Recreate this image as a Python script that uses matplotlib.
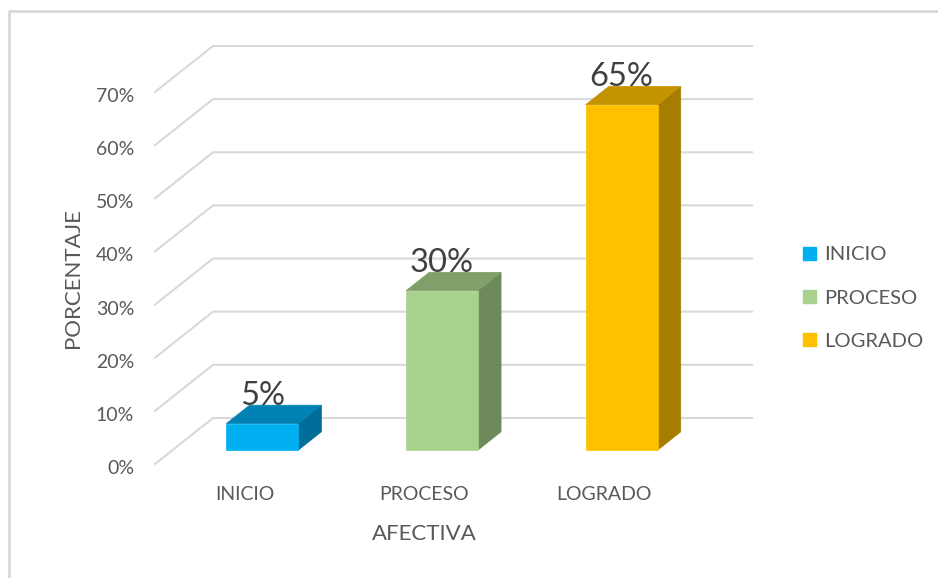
import matplotlib
matplotlib.use("Agg")
import matplotlib.pyplot as plt
import matplotlib.transforms as mtransforms
from matplotlib.patches import Polygon, Patch
from matplotlib.lines import Line2D

plt.rcParams['font.family'] = ['Lato', 'DejaVu Sans']

# data
categories = ["INICIO", "PROCESO", "LOGRADO"]
values = [5, 30, 65]
front_colors = ["#00B0F0", "#A9D18E", "#FFC000"]
top_colors = ["#0083B4", "#80A06A", "#C49400"]
side_colors = ["#006E98", "#6E8A5A", "#A67D00"]
y_ticks = [0, 10, 20, 30, 40, 50, 60, 70]
y_labels = ["0%", "10%", "20%", "30%", "40%", "50%", "60%", "70%"]

# fake 3d: depth offset of the floor (category units, percent units)
DX = 0.323
DY = 8.66
d0, d1 = 0.3, 0.7   # bar front / back depth
bw = 0.4            # bar width

W, H = 938, 578
fig = plt.figure(figsize=(W / 100, H / 100), dpi=100)
ax = fig.add_axes([155 / W, (H - 464) / H, 539 / W, 372 / H])
ax.set_xlim(-0.5, 2.5)
ax.set_ylim(0, 70)
for s in ax.spines.values():
    s.set_visible(False)

grid_c = "#D9D9D9"
for v in y_ticks:
    ax.plot([-0.5, -0.5 + DX, 2.5 + DX], [v, v + DY, v + DY],
            color=grid_c, lw=1.5, clip_on=False, zorder=1)

for i, (v, fc, tc, sc) in enumerate(zip(values, front_colors, top_colors, side_colors)):
    xl, xr = i - bw / 2, i + bw / 2
    front = [(xl + d0 * DX, d0 * DY), (xr + d0 * DX, d0 * DY),
             (xr + d0 * DX, v + d0 * DY), (xl + d0 * DX, v + d0 * DY)]
    top = [(xl + d0 * DX, v + d0 * DY), (xr + d0 * DX, v + d0 * DY),
           (xr + d1 * DX, v + d1 * DY), (xl + d1 * DX, v + d1 * DY)]
    side = [(xr + d0 * DX, d0 * DY), (xr + d1 * DX, d1 * DY),
            (xr + d1 * DX, v + d1 * DY), (xr + d0 * DX, v + d0 * DY)]
    for pts, c in [(side, sc), (top, tc), (front, fc)]:
        ax.add_patch(Polygon(pts, closed=True, facecolor=c, edgecolor=c,
                             lw=0.5, clip_on=False, zorder=3))
    ax.text(i + d0 * DX, v + d1 * DY, f"{v}%", ha="center", va="baseline",
            fontsize=23.5, color="#404040", zorder=4)

ax.set_yticks(y_ticks)
ax.set_yticklabels(y_labels)
ax.set_xticks(range(len(categories)))
ax.set_xticklabels(categories)
ax.tick_params(axis="both", length=0, labelsize=14, labelcolor="#595959")
ax.tick_params(axis="y", pad=15)
ax.tick_params(axis="x", pad=16)
# nudge y tick labels slightly down, like the original
shift = mtransforms.ScaledTranslation(0, -3 / 100, fig.dpi_scale_trans)
for lab in ax.get_yticklabels():
    lab.set_transform(lab.get_transform() + shift)
ax.set_xlabel("AFECTIVA", fontsize=16, color="#595959", labelpad=15)
ax.set_ylabel("PORCENTAJE", fontsize=16, color="#595959", labelpad=9)

handles = [Patch(facecolor=c, edgecolor=c, label=l) for c, l in zip(front_colors, categories)]
fig.legend(handles=handles, loc="center left", bbox_to_anchor=(785 / W, 1 - 298 / H),
           frameon=False, fontsize=14.5, labelcolor="#595959", handlelength=0.65,
           handleheight=0.65, handletextpad=0.4, labelspacing=1.3)

# chart border (top and left visible)
fig.add_artist(Line2D([9 / W, 9 / W, 1], [0, 1 - 11 / H, 1 - 11 / H],
                      transform=fig.transFigure, color=grid_c, lw=2))

fig.savefig("out.png", dpi=100, facecolor="white")
